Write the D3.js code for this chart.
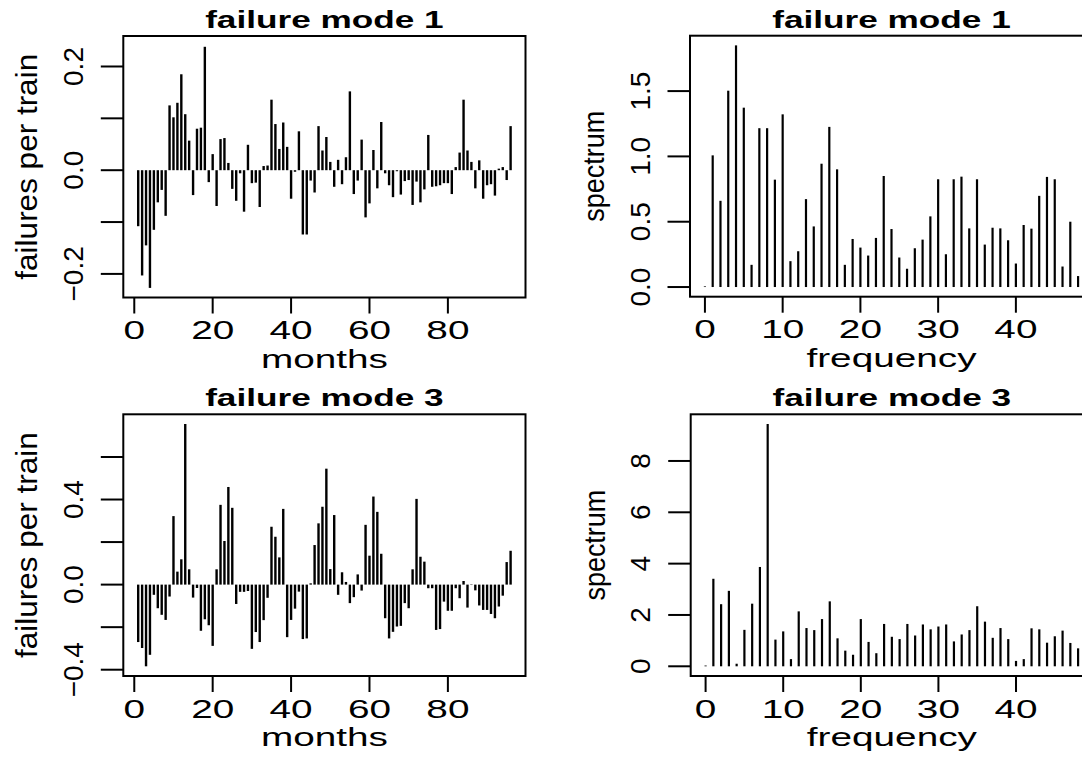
<!DOCTYPE html>
<html>
<head>
<meta charset="utf-8">
<script src="https://cdn.jsdelivr.net/npm/d3@7"></script>
<style>
  html, body { margin: 0; padding: 0; background: #fff; }
  svg { display: block; }
  text { font-family: "Liberation Sans", Arial, Helvetica, sans-serif; fill: #000; }
</style>
</head>
<body>
<svg id="chart" width="1082" height="757"></svg>
<script>
// ---------------- data ----------------
const titles = ["failure mode 1", "failure mode 1", "failure mode 3", "failure mode 3"];
const xLabels = ["months", "frequency"];
const yLabels = ["failures per train", "spectrum"];

const months = d3.range(1, 97);
const freqs = d3.range(0, 49);

const mode1Series = [
  -0.108, -0.203, -0.145, -0.227, -0.115, -0.062, -0.038, -0.088, 0.125, 0.102,
   0.130,  0.185,  0.108,  0.057, -0.048,  0.080,  0.082,  0.238, -0.023, 0.031,
  -0.069,  0.060,  0.062,  0.014, -0.036, -0.059, -0.006, -0.080,  0.049, -0.025,
  -0.024, -0.071,  0.008,  0.009,  0.136,  0.089,  0.041,  0.092,  0.045, -0.055,
  -0.003,  0.075, -0.124, -0.124, -0.020, -0.043,  0.085,  0.038,  0.064,  0.016,
  -0.032,  0.020, -0.027,  0.025,  0.152, -0.046, -0.020,  0.059, -0.091, -0.064,
   0.039, -0.035,  0.093, -0.006, -0.029, -0.052, -0.002, -0.047, -0.021, -0.019,
  -0.067, -0.022, -0.062, -0.037,  0.068, -0.032, -0.031, -0.029, -0.025, -0.025,
  -0.046,  0.006,  0.034,  0.136,  0.038,  0.016, -0.035,  0.019, -0.055, -0.029,
  -0.027, -0.049,  0.003,  0.006, -0.019,  0.085
];

const mode1Spectrum = [
  0.005, 1.008, 0.660, 1.503, 1.850, 1.373, 0.170, 1.216, 1.216, 0.822,
  1.322, 0.198, 0.274, 0.673, 0.464, 0.944, 1.226, 0.901, 0.170, 0.368,
  0.302, 0.241, 0.376, 0.850, 0.444, 0.226, 0.140, 0.297, 0.363, 0.541,
  0.825, 0.251, 0.825, 0.845, 0.449, 0.825, 0.325, 0.454, 0.449, 0.358,
  0.180, 0.475, 0.447, 0.698, 0.843, 0.825, 0.157, 0.500, 0.084
];

const mode3Series = [
  -0.270, -0.298, -0.384, -0.330, -0.048, -0.111, -0.142, -0.166, -0.056,  0.322,
   0.061,  0.119,  0.755,  0.072, -0.061, -0.016, -0.217, -0.163, -0.191, -0.288,
   0.072,  0.375,  0.205,  0.459,  0.361, -0.091, -0.034, -0.034, -0.030, -0.302,
  -0.223, -0.270, -0.167, -0.062,  0.272,  0.225,  0.128,  0.356, -0.247, -0.166,
  -0.113, -0.033, -0.256, -0.253,  0.006,  0.186,  0.288,  0.366,  0.545,  0.073,
   0.327, -0.048,  0.058,  0.0125, -0.087, -0.059,  0.048, -0.028,  0.281,  0.136,
   0.414,  0.342,  0.145, -0.158, -0.253, -0.222, -0.197, -0.194, -0.087, -0.111,
   0.072,  0.403,  0.131,  0.108, -0.017, -0.017, -0.213, -0.209, -0.080, -0.123,
  -0.123, -0.017, -0.064,  0.017, -0.108, -0.002, -0.027, -0.098, -0.119, -0.119,
  -0.138, -0.158, -0.103, -0.052,  0.106,  0.159
];

const mode3Spectrum = [
  0.03, 3.41, 2.42, 2.94, 0.10, 1.42, 2.44, 3.87, 9.44, 1.04,
  1.36, 0.28, 2.14, 1.49, 1.41, 1.84, 2.53, 1.09, 0.61, 0.45,
  1.84, 0.95, 0.51, 1.65, 1.15, 1.06, 1.65, 1.20, 1.63, 1.44,
  1.55, 1.63, 0.97, 1.24, 1.41, 2.34, 1.74, 1.11, 1.49, 1.06,
  0.21, 0.28, 1.48, 1.44, 0.92, 1.17, 1.39, 0.91, 0.70
];

// tick values and labels
const monthTicks = [0, 20, 40, 60, 80];
const freqTicks = [0, 10, 20, 30, 40];
const yTicksTS1 = [-0.2, -0.1, 0, 0.1, 0.2];
const yLabTS1 = [-0.2, 0, 0.2];
const yTicksSP1 = [0, 0.5, 1, 1.5];
const yTicksTS3 = [-0.4, -0.2, 0, 0.2, 0.4, 0.6];
const yLabTS3 = [-0.4, 0, 0.4];
const yTicksSP3 = [0, 2, 4, 6, 8];

// ---------------- layout ----------------
const panels = [
  { title: titles[0], xs: months, ys: mode1Series, xlab: xLabels[0], ylab: yLabels[0],
    box: {l: 123.3, r: 525.5, t: 36, b: 297.5}, xDom: [-2.8, 99.8], yDom: [-0.2455, 0.2588],
    xTicks: monthTicks, yTicks: yTicksTS1, yLabs: yLabTS1, fmt: d3.format(".1f"), lw: 2.4, ylabScale: 1.05 },
  { title: titles[1], xs: freqs, ys: mode1Spectrum, xlab: xLabels[1], ylab: yLabels[1],
    box: {l: 690, r: 1093, t: 35.7, b: 296.7}, xDom: [-1.92, 49.92], yDom: [-0.074, 1.924],
    xTicks: freqTicks, yTicks: yTicksSP1, yLabs: yTicksSP1, fmt: d3.format(".1f"), lw: 2.2, ylabScale: 0.9 },
  { title: titles[2], xs: months, ys: mode3Series, xlab: xLabels[0], ylab: yLabels[0],
    box: {l: 123.3, r: 525.5, t: 414.3, b: 676}, xDom: [-2.8, 99.8], yDom: [-0.4296, 0.8006],
    xTicks: monthTicks, yTicks: yTicksTS3, yLabs: yLabTS3, fmt: d3.format(".1f"), lw: 2.4, ylabScale: 1.05 },
  { title: titles[3], xs: freqs, ys: mode3Spectrum, xlab: xLabels[1], ylab: yLabels[1],
    box: {l: 690.7, r: 1093, t: 414.3, b: 676}, xDom: [-1.92, 49.92], yDom: [-0.378, 9.818],
    xTicks: freqTicks, yTicks: yTicksSP3, yLabs: yTicksSP3, fmt: d3.format("d"), lw: 2.2, ylabScale: 0.9 }
];

const svg = d3.select("#chart");
svg.append("rect").attr("width", 1082).attr("height", 757).attr("fill", "#fff");

function hText(g, x, y, str, size, sx, weight) {
  return g.append("text")
    .attr("transform", `translate(${x},${y}) scale(${sx},1)`)
    .attr("text-anchor", "middle")
    .style("font-size", size + "px")
    .style("font-weight", weight || "normal")
    .text(str);
}
function vText(g, x, y, str, size, sAlong) {
  return g.append("text")
    .attr("transform", `translate(${x},${y}) rotate(-90) scale(${sAlong},1)`)
    .attr("text-anchor", "middle")
    .style("font-size", size + "px")
    .text(str);
}

panels.forEach(p => {
  const g = svg.append("g");
  const x = d3.scaleLinear().domain(p.xDom).range([p.box.l, p.box.r]);
  const y = d3.scaleLinear().domain(p.yDom).range([p.box.b, p.box.t]);
  const cx = (p.box.l + p.box.r) / 2;
  const cy = (p.box.t + p.box.b) / 2;

  // bars (type = "h")
  g.append("g").selectAll("line").data(p.ys).join("line")
    .attr("x1", (d, i) => x(p.xs[i])).attr("x2", (d, i) => x(p.xs[i]))
    .attr("y1", y(0)).attr("y2", d => y(d))
    .attr("stroke", "#000").attr("stroke-width", p.lw).attr("stroke-linecap", "butt");

  // box
  g.append("rect")
    .attr("x", p.box.l).attr("y", p.box.t)
    .attr("width", p.box.r - p.box.l).attr("height", p.box.b - p.box.t)
    .attr("fill", "none").attr("stroke", "#000").attr("stroke-width", 2);

  // x axis ticks
  g.append("g").selectAll("line").data(p.xTicks).join("line")
    .attr("x1", d => x(d)).attr("x2", d => x(d))
    .attr("y1", p.box.b).attr("y2", p.box.b + 16)
    .attr("stroke", "#000").attr("stroke-width", 2);
  p.xTicks.forEach(t => hText(g, x(t), p.box.b + 41.5, String(t), 25, 1.55));

  // y axis ticks
  g.append("g").selectAll("line").data(p.yTicks).join("line")
    .attr("x1", p.box.l - 22.5).attr("x2", p.box.l)
    .attr("y1", d => y(d)).attr("y2", d => y(d))
    .attr("stroke", "#000").attr("stroke-width", 2);
  p.yLabs.forEach(t => vText(g, p.box.l - 40.5, y(t), p.fmt(t), 28, 1.0));

  // titles and axis labels
  hText(g, cx, p.box.t - 8, p.title, 23, 1.53, "bold");
  const lx = p.box.l < 300 ? cx : (p.box.l + 1093) / 2;
  hText(g, lx, p.box.b + 70, p.xlab, 25, 1.55);
  vText(g, p.box.l - 86, cy, p.ylab, 30, p.ylabScale);
});
</script>
</body>
</html>
